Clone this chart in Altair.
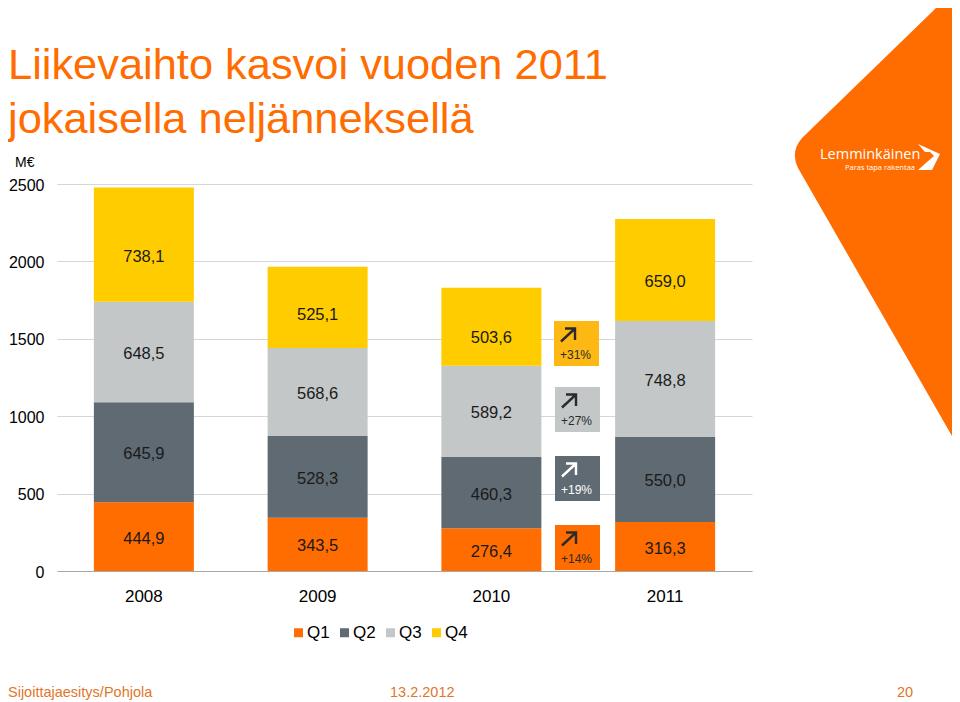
import altair as alt
import pandas as pd

years = ["2008", "2009", "2010", "2011"]
quarters = ["Q1", "Q2", "Q3", "Q4"]
q1 = [444.9, 343.5, 276.4, 316.3]
q2 = [645.9, 528.3, 460.3, 550.0]
q3 = [648.5, 568.6, 589.2, 748.8]
q4 = [738.1, 525.1, 503.6, 659.0]
colors = ["#FF6C00", "#5F6A72", "#C3C7C8", "#FFCC00"]
growth = ["+31%", "+27%", "+19%", "+14%"]
growth_fill = ["#FDB813", "#C3C7C8", "#5F6A72", "#FF6C00"]
growth_ink = ["#2b2b2b", "#2b2b2b", "#ffffff", "#2b2b2b"]
growth_top = [321, 387, 456, 525]
q4_label_shift = [12, 8, 11, 12]
FONT = "Liberation Sans"
ORANGE = "#FF6C00"
OX, OY = 57, 184  # plot origin on the page


def px(v):
    return alt.value(v - OX)


def py(v):
    return alt.value(v - OY)


rows = []
for yi, year in enumerate(years):
    base = 0.0
    for qi, series in enumerate([q1, q2, q3, q4]):
        v = series[yi]
        rows.append({
            "year": year, "quarter": quarters[qi], "qi": qi, "value": v,
            "mid": base + v / 2,
            "label": f"{v:.1f}".replace(".", ","),
        })
        base += v
df = pd.DataFrame(rows)
one = pd.DataFrame({"k": [0]})

x_scale = alt.Scale(paddingInner=0.4245, paddingOuter=0.2122)
y_scale = alt.Scale(domain=[0, 2500])
x_axis = alt.Axis(title=None, labelAngle=0, ticks=False, domainColor="#A8A8A8", domainWidth=1, grid=False,
                  labelPadding=17, labelFontSize=17, labelFont=FONT, labelColor="#000000")
y_axis = alt.Axis(title=None, values=[0, 500, 1000, 1500, 2000, 2500], ticks=False, domain=False, grid=True,
                  format="d", gridColor="#D6D6D6", gridWidth=1, labelPadding=13, labelFontSize=16,
                  labelFont=FONT, labelColor="#000000", labelOffset=1)
x = alt.X("year:N", sort=years, scale=x_scale, axis=x_axis)

bars = alt.Chart(df).mark_bar(opacity=1).encode(
    x=x,
    y=alt.Y("value:Q", stack="zero", scale=y_scale, axis=y_axis),
    order=alt.Order("qi:Q", sort="ascending"),
    color=alt.Color("quarter:N", sort=quarters, scale=alt.Scale(domain=quarters, range=colors),
                    legend=alt.Legend(title=None, orient="none", legendX=294 - OX - 4, legendY=632 - OY - 8,
                                      direction="horizontal", columns=4, symbolType="square", symbolSize=81,
                                      symbolStrokeWidth=0, labelFontSize=17, labelFont=FONT, labelColor="#000000",
                                      columnPadding=6, labelOffset=0, padding=0)),
)


def label_layer(data, dy=2):
    return alt.Chart(data).mark_text(font=FONT, fontSize=16.5, color="#1a1a1a", dy=dy).encode(
        x=x,
        y=alt.Y("mid:Q", scale=y_scale, axis=y_axis),
        text="label:N",
    )


layers = [bars, label_layer(df[df.quarter != "Q4"])]
for year, shift in zip(years, q4_label_shift):
    layers.append(label_layer(df[(df.quarter == "Q4") & (df.year == year)], dy=shift))

# growth callouts
for text, fill, ink, top in zip(growth, growth_fill, growth_ink, growth_top):
    left = 554 if text == "+31%" else 555
    layers.append(alt.Chart(one).mark_rect(color=fill, opacity=1).encode(
        x=px(left), x2=px(left + 45), y=py(top), y2=py(top + 45)))
    layers.append(alt.Chart(one).mark_point(
        shape="M-7 6.5 L7 -6.5 M-3 -6.5 L7 -6.5 L7 5", size=4, stroke=ink, strokeWidth=2.4, filled=False, opacity=1
    ).encode(x=px(left + 14), y=py(top + 14)))
    layers.append(alt.Chart(one).mark_text(font=FONT, fontSize=12, color=ink).encode(
        x=px(left + 21.5), y=py(top + 34), text=alt.value(text)))

# corner shape and logo, path coordinates are page pixels
corner = "M960 0 L950 0 Q942 1 933 11 L802 138 Q790 152 798 168 L960 450 Z"
layers.append(alt.Chart(one).mark_point(shape=corner, size=4, filled=True, fill=ORANGE, strokeWidth=0, opacity=1)
              .encode(x=px(0), y=py(0)))
emblem = "M918 144 L940 154 L932 170 L918 170 L927 162 L934 156 L930 152 L925 152 Z"
layers.append(alt.Chart(one).mark_point(shape=emblem, size=4, filled=True, fill="#ffffff", strokeWidth=0, opacity=1)
              .encode(x=px(0), y=py(0)))
layers.append(alt.Chart(one).mark_text(font="Open Sans", fontSize=14.5, color="#ffffff", align="left").encode(
    x=px(820), y=py(155), text=alt.value("Lemminkäinen")))
layers.append(alt.Chart(one).mark_text(font="Open Sans", fontSize=7.5, color="#ffffff", align="left").encode(
    x=px(845), y=py(168), text=alt.value("Paras tapa rakentaa")))

# slide text
for text, left, mid, size, color, align in [
    ("Liikevaihto kasvoi vuoden 2011", 8, 66, 43.4, ORANGE, "left"),
    ("jokaisella neljänneksellä", 8, 120, 43.4, ORANGE, "left"),
    ("M€", 15, 163, 14, "#000000", "left"),
    ("Sijoittajaesitys/Pohjola", 8, 693, 14.5, "#E0762A", "left"),
    ("13.2.2012", 390, 693, 14.5, "#E0762A", "left"),
    ("20", 897, 693, 14.5, "#E0762A", "left"),
]:
    layers.append(alt.Chart(one).mark_text(font=FONT, fontSize=size, color=color, align=align).encode(
        x=px(left), y=py(mid), text=alt.value(text)))

chart = alt.layer(*layers).properties(
    width=695, height=387,
    autosize=alt.AutoSizeParams(type="none"),
    padding={"left": OX - 8, "top": OY - 8, "right": 944 - (OX - 8) - 695, "bottom": 692 - (OY - 8) - 387},
).configure_view(stroke=None)

chart.save("out.html", embed_options={"renderer": "svg", "actions": False})
